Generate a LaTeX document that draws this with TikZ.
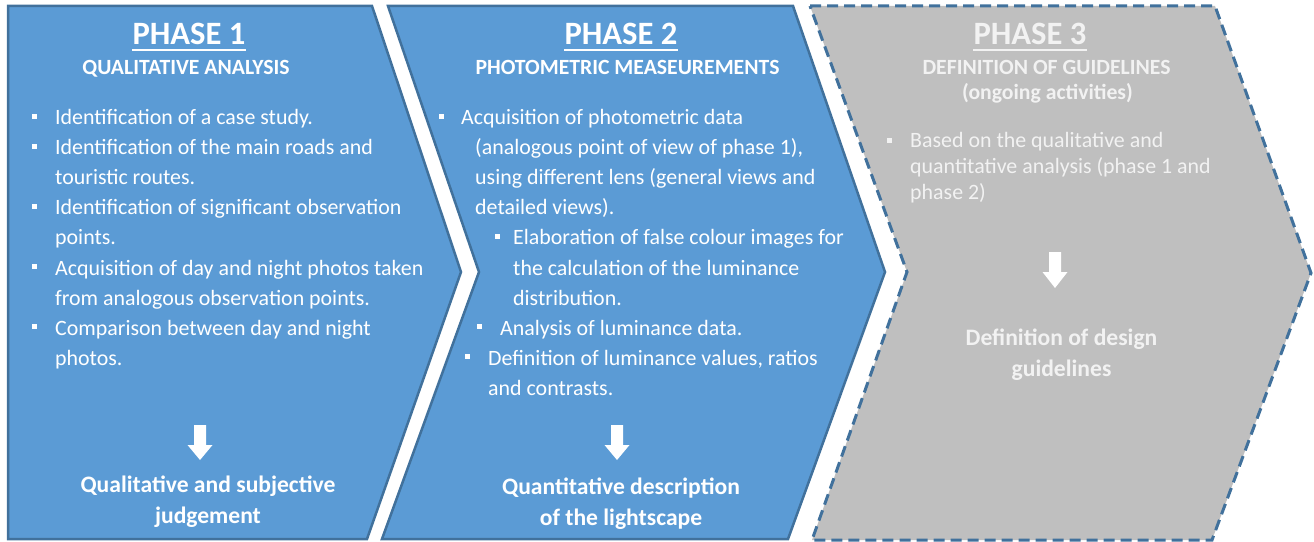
\documentclass[tikz,border=0pt]{standalone}
\usepackage{fontspec}
\setmainfont{Carlito}
\definecolor{pblue}{HTML}{5B9BD5}
\definecolor{pborder}{HTML}{41719C}
\definecolor{pgray}{HTML}{BFBFBF}
\definecolor{ptxt}{HTML}{F2F2F2}
\tikzset{
 phaseblue/.style={fill=pblue, draw=pborder, line width=2.5bp, line join=miter},
 phasegray/.style={fill=pgray, draw=pborder, line width=3bp, dash pattern=on 11bp off 6bp, line join=miter},
 txt/.style={anchor=base west, inner sep=0, text=white, font=\fontsize{21.9bp}{26bp}\selectfont},
 ttl/.style={anchor=base, inner sep=0, text=white, font=\bfseries\fontsize{32.6bp}{38bp}\selectfont},
 subttl/.style={anchor=base, inner sep=0, text=white, font=\bfseries\fontsize{21.7bp}{26bp}\selectfont},
 res/.style={anchor=base, inner sep=0, text=white, font=\bfseries\fontsize{23.6bp}{28bp}\selectfont},
 bul/.style={fill=white, inner sep=0, minimum size=5bp, draw=none, rectangle},
 uline/.style={draw=white, line width=2bp},
 barrow/.style={fill=white}
}
\begin{document}
\begin{tikzpicture}[x=1bp,y=-1bp]
\useasboundingbox (0,0) rectangle (1314,542);
% shapes
\draw[phaseblue] (8,6) -- (372,6) -- (461,272) -- (367,539) -- (8,539) -- cycle;
\draw[phaseblue] (388,6) -- (793,6) -- (885,272) -- (788,539) -- (382,539) -- (479,272) -- cycle;
\draw[phasegray] (810,6) -- (1215,6) -- (1311,273) -- (1212,540) -- (812,540) -- (907,272) -- cycle;

% Phase 1
\node[ttl] (t1) at (189,45) {PHASE 1};
\draw[uline] ([yshift=-5bp]t1.south west) -- ([yshift=-5bp]t1.south east);
\node[subttl] (s1) at (186,75) {QUALITATIVE ANALYSIS};
\node[bul] (b1a) at (34.5,116.5) {};
\node[txt] (l1a) at (55,125) {Identification of a case study.};
\node[bul] (b1b) at (34.5,146.5) {};
\node[txt] (l1b) at (55,155) {Identification of the main roads and};
\node[txt] (l1c) at (55,185) {touristic routes.};
\node[bul] (b1d) at (34.5,206.5) {};
\node[txt] (l1d) at (55,215) {Identification of significant observation};
\node[txt] (l1e) at (55,245) {points.};
\node[bul] (b1f) at (34.5,266.5) {};
\node[txt] (l1f) at (55,275) {Acquisition of day and night photos taken};
\node[txt] (l1g) at (55,305) {from analogous observation points.};
\node[bul] (b1h) at (34.5,326.5) {};
\node[txt] (l1h) at (55,335) {Comparison between day and night};
\node[txt] (l1i) at (55,365) {photos.};
\fill[barrow] (194,425) -- (206,425) -- (206,445) -- (212.5,445) -- (200,460) -- (187.5,445) -- (194,445) -- cycle;
\node[res] (r1a) at (208,492) {Qualitative and subjective};
\node[res] (r1b) at (208,523) {judgement};

% Phase 2
\node[ttl] (t2) at (621,45) {PHASE 2};
\draw[uline] ([yshift=-5bp]t2.south west) -- ([yshift=-5bp]t2.south east);
\node[subttl] (s2) at (627.5,75) {PHOTOMETRIC MEASEUREMENTS};
\node[bul] (b2a) at (441.5,116.5) {};
\node[txt] (l2a) at (461,125) {Acquisition of photometric data};
\node[txt] (l2b) at (475,155) {(analogous point of view of phase 1),};
\node[txt] (l2c) at (475,185) {using different lens (general views and};
\node[txt] (l2d) at (475,215) {detailed views).};
\node[bul] (b2e) at (497.5,236.5) {};
\node[txt] (l2e) at (513,245) {Elaboration of false colour images for};
\node[txt] (l2f) at (513,275) {the calculation of the luminance};
\node[txt] (l2g) at (513,305) {distribution.};
\node[bul] (b2h) at (479.5,326.5) {};
\node[txt] (l2h) at (500,335) {Analysis of luminance data.};
\node[bul] (b2i) at (467.5,356.5) {};
\node[txt] (l2i) at (488,365) {Definition of luminance values, ratios};
\node[txt] (l2j) at (488,395) {and contrasts.};
\fill[barrow] (611,425) -- (623,425) -- (623,445) -- (629.5,445) -- (617,460) -- (604.5,445) -- (611,445) -- cycle;
\node[res] (r2a) at (621,494) {Quantitative description};
\node[res] (r2b) at (621,525) {of the lightscape};

% Phase 3
\node[ttl, text=ptxt] (t3) at (1030,45) {PHASE 3};
\draw[uline, draw=ptxt] ([yshift=-5bp]t3.south west) -- ([yshift=-5bp]t3.south east);
\node[subttl, text=ptxt] (s3) at (1046.5,75) {DEFINITION OF GUIDELINES};
\node[subttl, text=ptxt] (s3b) at (1047.5,100) {(ongoing activities)};
\node[bul, fill=ptxt] (b3a) at (889.5,140.5) {};
\node[txt, text=ptxt] (l3a) at (910,148) {Based on the qualitative and};
\node[txt, text=ptxt] (l3b) at (910,174) {quantitative analysis (phase 1 and};
\node[txt, text=ptxt] (l3c) at (910,200) {phase 2)};
\fill[barrow] (1049,252) -- (1061,252) -- (1061,272) -- (1067.5,272) -- (1055,288) -- (1042.5,272) -- (1049,272) -- cycle;
\node[res, text=ptxt] (r3a) at (1061.5,345) {Definition of design};
\node[res, text=ptxt] (r3b) at (1061.5,376) {guidelines};
\end{tikzpicture}
\end{document}
